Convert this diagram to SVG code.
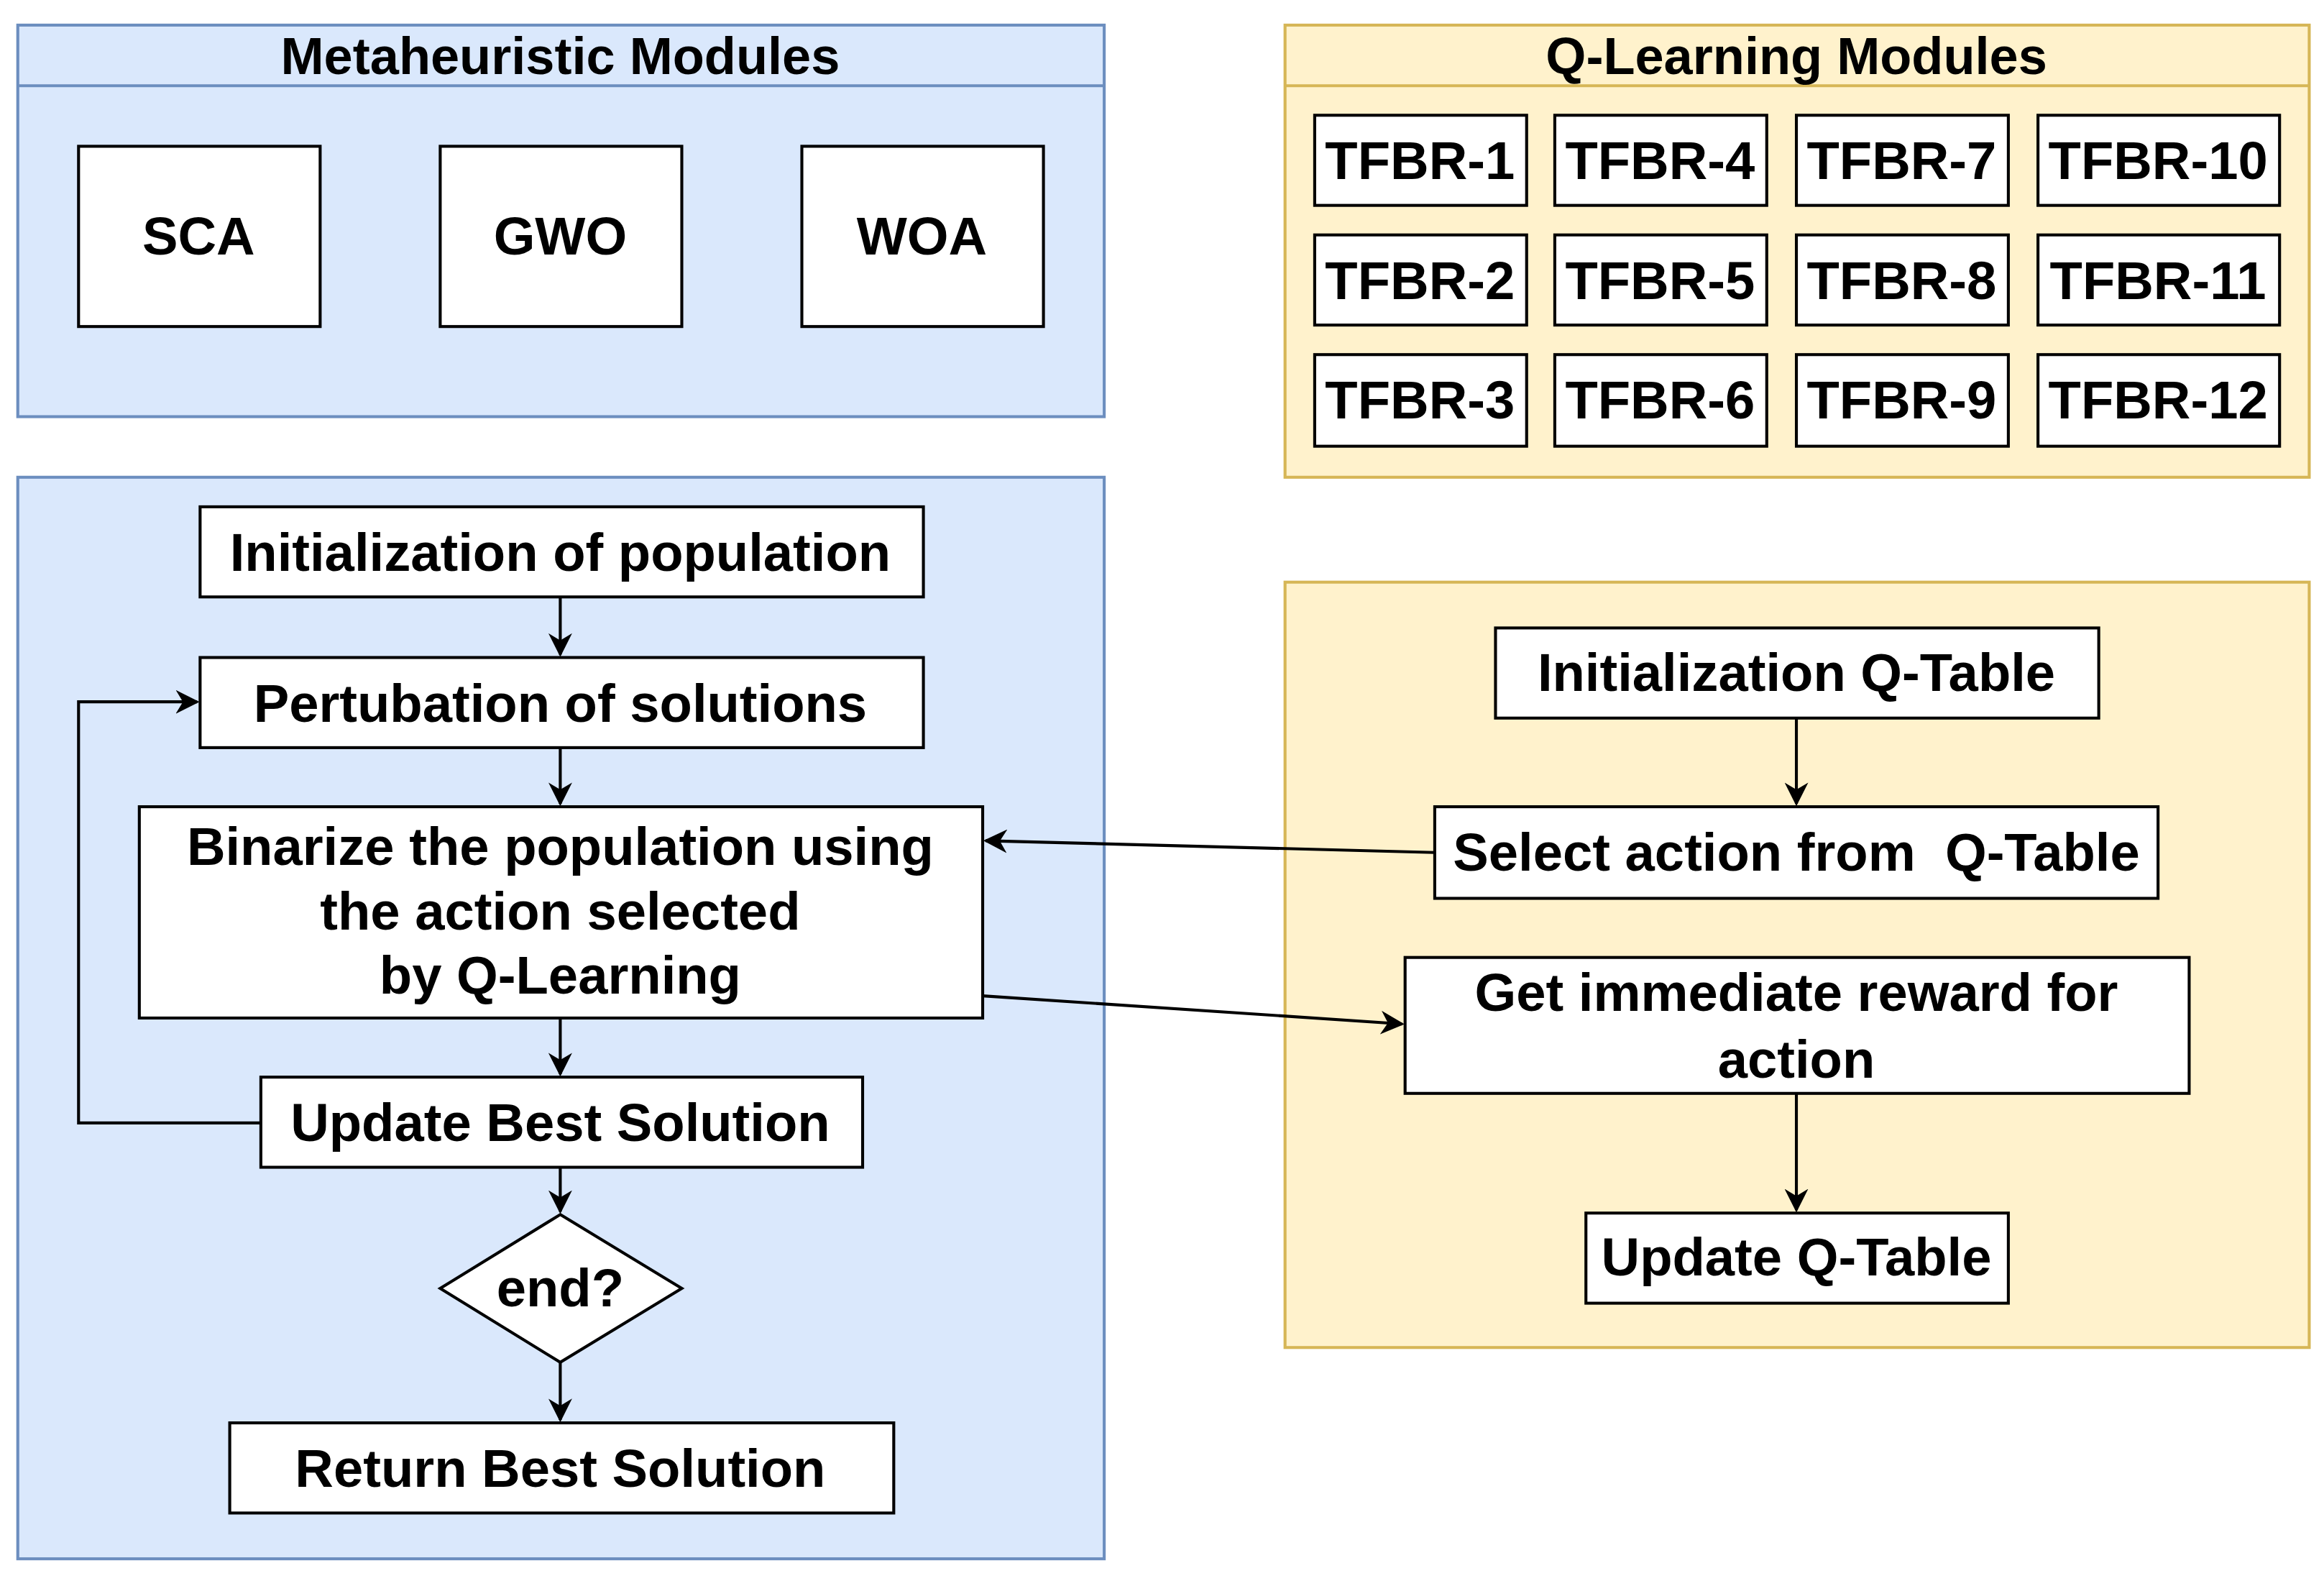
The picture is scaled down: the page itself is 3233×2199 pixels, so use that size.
<svg xmlns="http://www.w3.org/2000/svg" width="3233" height="2199" viewBox="0 0 3233 2199">
<defs>
<style>
text{font-family:"Liberation Sans",Arial,sans-serif;font-weight:bold;fill:#000;text-anchor:middle;dominant-baseline:central}
.b{fill:#fff;stroke:#000;stroke-width:2}
.blue{fill:#dae8fc;stroke:#6c8ebf;stroke-width:2}
.yel{fill:#fff2cc;stroke:#d6b656;stroke-width:2}
.t{font-size:36px}
.h{font-size:35px}
.c{fill:none;stroke:#000;stroke-width:2;marker-end:url(#a2)}
</style>
<marker id="a2" viewBox="0 0 10 10" refX="9" refY="5" markerWidth="8" markerHeight="8" orient="auto"><path d="M0,0 L10,5 L0,10 L3,5 Z" fill="#000"/></marker>
</defs>
<rect width="3233" height="2199" fill="#fff"/>
<g transform="scale(2.0619,2.0551)">
<g id="meta">
<rect class="blue" x="12" y="17" width="733" height="265"/>
<line x1="12" y1="58" x2="745" y2="58" stroke="#6c8ebf" stroke-width="2"/>
<text class="h" x="378" y="38">Metaheuristic Modules</text>
</g>
<g id="sca"><rect class="b" x="53" y="99" width="163" height="122"/><text class="t" x="134" y="160">SCA</text></g>
<g id="gwo"><rect class="b" x="297" y="99" width="163" height="122"/><text class="t" x="378" y="160">GWO</text></g>
<g id="woa"><rect class="b" x="541" y="99" width="163" height="122"/><text class="t" x="622" y="160">WOA</text></g>
<g id="ql">
<rect class="yel" x="867" y="17" width="691" height="306"/>
<line x1="867" y1="58" x2="1558" y2="58" stroke="#d6b656" stroke-width="2"/>
<text class="h" x="1212" y="38">Q-Learning Modules</text>
</g>
<g id="tfbr1"><rect class="b" x="887" y="78" width="143" height="61"/><text class="t" x="958" y="109">TFBR-1</text></g>
<g id="tfbr2"><rect class="b" x="887" y="159" width="143" height="61"/><text class="t" x="958" y="190">TFBR-2</text></g>
<g id="tfbr3"><rect class="b" x="887" y="240" width="143" height="62"/><text class="t" x="958" y="271">TFBR-3</text></g>
<g id="tfbr4"><rect class="b" x="1049" y="78" width="143" height="61"/><text class="t" x="1120" y="109">TFBR-4</text></g>
<g id="tfbr5"><rect class="b" x="1049" y="159" width="143" height="61"/><text class="t" x="1120" y="190">TFBR-5</text></g>
<g id="tfbr6"><rect class="b" x="1049" y="240" width="143" height="62"/><text class="t" x="1120" y="271">TFBR-6</text></g>
<g id="tfbr7"><rect class="b" x="1212" y="78" width="143" height="61"/><text class="t" x="1283" y="109">TFBR-7</text></g>
<g id="tfbr8"><rect class="b" x="1212" y="159" width="143" height="61"/><text class="t" x="1283" y="190">TFBR-8</text></g>
<g id="tfbr9"><rect class="b" x="1212" y="240" width="143" height="62"/><text class="t" x="1283" y="271">TFBR-9</text></g>
<g id="tfbr10"><rect class="b" x="1375" y="78" width="163" height="61"/><text class="t" x="1456" y="109">TFBR-10</text></g>
<g id="tfbr11"><rect class="b" x="1375" y="159" width="163" height="61"/><text class="t" x="1456" y="190">TFBR-11</text></g>
<g id="tfbr12"><rect class="b" x="1375" y="240" width="163" height="62"/><text class="t" x="1456" y="271">TFBR-12</text></g>
<g id="leftpanel"><rect class="blue" x="12" y="323" width="733" height="732"/></g>
<g id="rightpanel"><rect class="yel" x="867" y="394" width="691" height="518"/></g>
<g id="initpop"><rect class="b" x="135" y="343" width="488" height="61"/><text class="t" x="378" y="374">Initialization of population</text></g>
<g id="pert"><rect class="b" x="135" y="445" width="488" height="61"/><text class="t" x="378" y="476">Pertubation of solutions</text></g>
<g id="bin"><rect class="b" x="94" y="546" width="569" height="143"/>
<text class="t" x="378" y="573">Binarize the population using</text>
<text class="t" x="378" y="617">the action selected</text>
<text class="t" x="378" y="660">by Q-Learning</text></g>
<g id="upd"><rect class="b" x="176" y="729" width="406" height="61"/><text class="t" x="378" y="760">Update Best Solution</text></g>
<g id="end"><path class="b" d="M378,822 L460,872 L378,922 L297,872 Z"/><text class="t" x="378" y="872">end?</text></g>
<g id="ret"><rect class="b" x="155" y="963" width="448" height="61"/><text class="t" x="378" y="994">Return Best Solution</text></g>
<g id="initq"><rect class="b" x="1009" y="425" width="407" height="61"/><text class="t" x="1212" y="455">Initialization Q-Table</text></g>
<g id="sel"><rect class="b" x="968" y="546" width="488" height="62"/><text class="t" x="1212" y="577" xml:space="preserve">Select action from  Q-Table</text></g>
<g id="rew"><rect class="b" x="948" y="648" width="529" height="92"/>
<text class="t" x="1212" y="672">Get immediate reward for</text>
<text class="t" x="1212" y="717">action</text></g>
<g id="updq"><rect class="b" x="1070" y="821" width="285" height="61"/><text class="t" x="1212" y="851">Update Q-Table</text></g>
<g id="connectors">
<path class="c" d="M378,404 L378,443"/>
<path class="c" d="M378,506 L378,544"/>
<path class="c" d="M378,689 L378,727"/>
<path class="c" d="M378,790 L378,820"/>
<path class="c" d="M378,922 L378,961"/>
<path class="c" d="M176,760 L53,760 L53,475 L133,475"/>
<path class="c" d="M968,577 L665,569"/>
<path class="c" d="M663,674 L946,693"/>
<path class="c" d="M1212,486 L1212,544"/>
<path class="c" d="M1212,740 L1212,819"/>
</g>
</g>
</svg>
